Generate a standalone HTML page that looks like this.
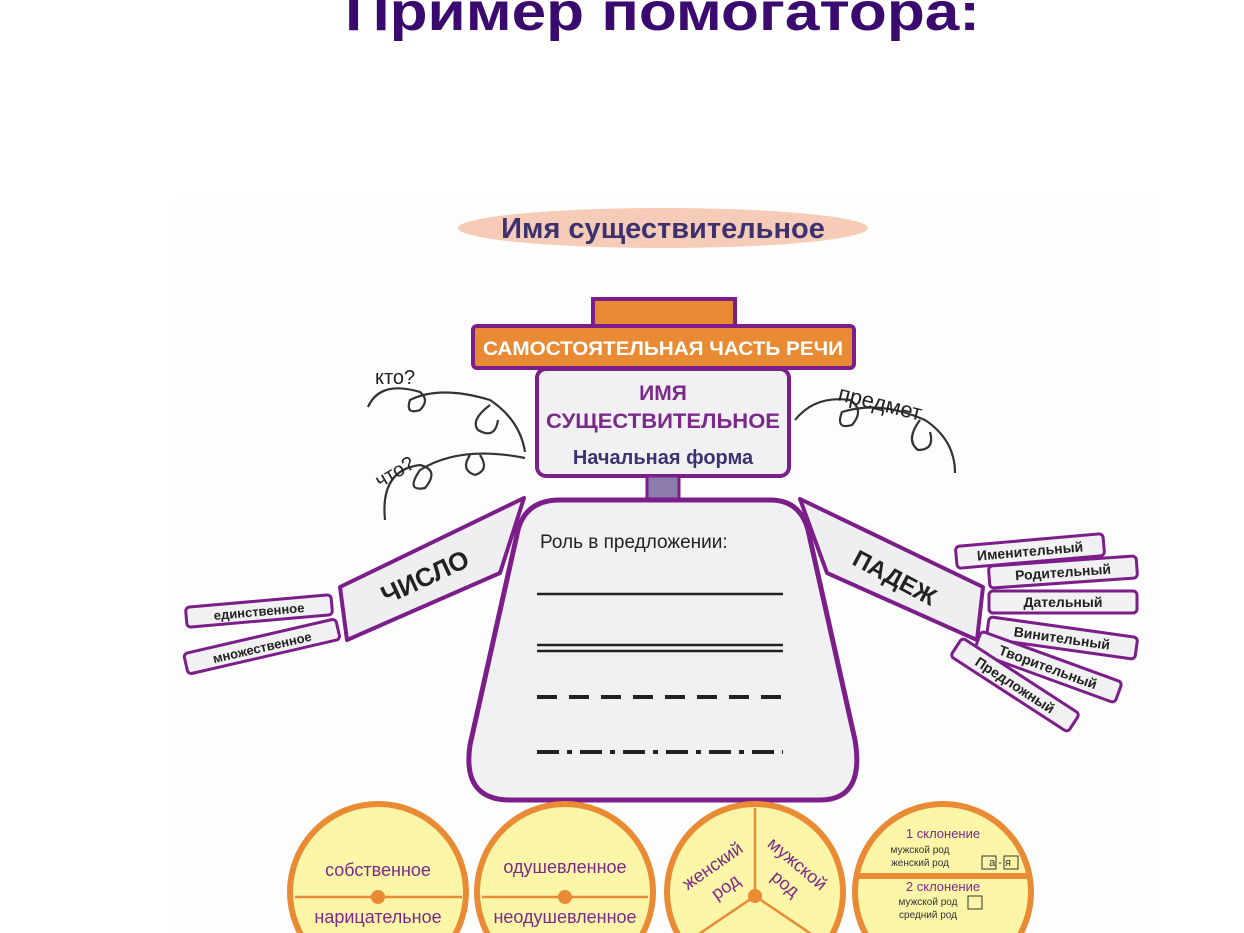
<!DOCTYPE html>
<html><head><meta charset="utf-8"><style>
html,body{margin:0;padding:0;background:#fff;width:1244px;height:933px;overflow:hidden;}
svg{display:block;font-family:"Liberation Sans",sans-serif;}
</style></head><body>
<svg width="1244" height="933" viewBox="0 0 1244 933" xmlns="http://www.w3.org/2000/svg">
<rect x="175" y="195" width="985" height="738" fill="#fdfdfd"/>
<text x="345" y="30" font-size="54" font-weight="bold" fill="#3a0a6e" textLength="635" lengthAdjust="spacingAndGlyphs">Пример помогатора:</text>

<ellipse cx="663" cy="228" rx="205" ry="20" fill="#f6cbb8"/>
<text x="663" y="238" font-size="29" font-weight="bold" fill="#3d3270" text-anchor="middle">Имя существительное</text>

<rect x="593" y="299" width="142" height="34" fill="#e98a34" stroke="#7b1e8a" stroke-width="4"/>
<rect x="473" y="326" width="381" height="42" rx="4" fill="#e98a34" stroke="#7b1e8a" stroke-width="4"/>
<text x="663" y="355" font-size="19.5" font-weight="bold" fill="#fff" text-anchor="middle" textLength="360" lengthAdjust="spacingAndGlyphs">САМОСТОЯТЕЛЬНАЯ ЧАСТЬ РЕЧИ</text>

<rect x="537" y="369" width="252" height="107" rx="9" fill="#f1f1f3" stroke="#7b1e8a" stroke-width="4"/>
<text x="663" y="400" font-size="21" font-weight="bold" fill="#7b2a8a" text-anchor="middle">ИМЯ</text>
<text x="663" y="428" font-size="21" font-weight="bold" fill="#7b2a8a" text-anchor="middle" textLength="234" lengthAdjust="spacingAndGlyphs">СУЩЕСТВИТЕЛЬНОЕ</text>
<text x="663" y="464" font-size="20" font-weight="bold" fill="#3d3270" text-anchor="middle">Начальная форма</text>
<rect x="647" y="476" width="32" height="24" fill="#8c7cae" stroke="#7b1e8a" stroke-width="3"/>

<g fill="none" stroke="#333" stroke-width="2.2">
<path d="M368 407 Q380 380 420 392 Q430 400 420 410 Q405 415 410 400 Q440 385 490 400 Q520 420 525 452"/>
<path d="M490 405 Q470 420 478 430 Q495 440 498 420"/>
<path d="M385 520 Q380 470 420 465 Q440 470 425 488 Q405 492 420 470 Q460 445 525 458"/>
<path d="M470 455 Q460 470 475 475 Q490 470 480 455"/>
<path d="M795 420 Q815 395 850 400 Q865 410 852 425 Q835 430 842 412 Q880 400 925 420 Q955 440 955 473"/>
<path d="M920 420 Q905 440 918 450 Q935 450 930 432"/>
</g>
<text x="375" y="384" font-size="20" fill="#222">кто?</text>
<text x="380" y="488" font-size="20" fill="#222" transform="rotate(-30 380 488)">что?</text>
<text x="837" y="400" font-size="22" fill="#222" transform="rotate(14 837 400)">предмет</text>

<path d="M560 500 L770 500 Q800 500 808 530 L855 740 Q865 800 820 800 L510 800 Q462 800 470 745 L518 530 Q526 500 560 500 Z" fill="#f1f1f3" stroke="#7b1e8a" stroke-width="5"/>
<text x="540" y="548" font-size="19" fill="#222">Роль в предложении:</text>
<g stroke="#222" stroke-width="2.5">
<line x1="537" y1="594" x2="783" y2="594"/>
<line x1="537" y1="645" x2="783" y2="645"/>
<line x1="537" y1="651" x2="783" y2="651"/>
<line x1="537" y1="697" x2="783" y2="697" stroke-width="4" stroke-dasharray="20 12"/>
<line x1="537" y1="752" x2="783" y2="752" stroke-width="4" stroke-dasharray="22 8 5 8"/>
</g>

<polygon points="340,587 524,498 500,573 347,640" fill="#efeff1" stroke="#7b1e8a" stroke-width="4" stroke-linejoin="round"/>
<text x="425" y="586" font-size="26" font-weight="bold" fill="#222" text-anchor="middle" transform="rotate(-25 425 577)">ЧИСЛО</text>
<g transform="rotate(-5 259 611)"><rect x="186" y="601" width="146" height="20" rx="4" fill="#f1f1f3" stroke="#7b1e8a" stroke-width="3"/><text x="259" y="616" font-size="13" font-weight="bold" fill="#222" text-anchor="middle">единственное</text></g>
<g transform="rotate(-13 262 647)"><rect x="184" y="636" width="156" height="21" rx="4" fill="#f1f1f3" stroke="#7b1e8a" stroke-width="3"/><text x="262" y="652" font-size="13" font-weight="bold" fill="#222" text-anchor="middle">множественное</text></g>

<polygon points="800,499 827,573 977,640 983,587" fill="#efeff1" stroke="#7b1e8a" stroke-width="4" stroke-linejoin="round"/>
<text x="895" y="586" font-size="24" font-weight="bold" fill="#222" text-anchor="middle" transform="rotate(28 895 577)">ПАДЕЖ</text>
<g font-size="14" font-weight="bold" fill="#222" text-anchor="middle">
<g transform="rotate(-5 1030 551)"><rect x="956" y="540" width="148" height="22" rx="4" fill="#f1f1f3" stroke="#7b1e8a" stroke-width="3"/><text x="1030" y="556">Именительный</text></g>
<g transform="rotate(-4 1063 572)"><rect x="989" y="561" width="148" height="22" rx="4" fill="#f1f1f3" stroke="#7b1e8a" stroke-width="3"/><text x="1063" y="577">Родительный</text></g>
<g><rect x="989" y="591" width="148" height="22" rx="4" fill="#f1f1f3" stroke="#7b1e8a" stroke-width="3"/><text x="1063" y="607">Дательный</text></g>
<g transform="rotate(8 1062 638)"><rect x="987" y="627" width="150" height="22" rx="4" fill="#f1f1f3" stroke="#7b1e8a" stroke-width="3"/><text x="1062" y="643">Винительный</text></g>
<g transform="rotate(20 1048 667)"><rect x="973" y="656" width="150" height="22" rx="4" fill="#f1f1f3" stroke="#7b1e8a" stroke-width="3"/><text x="1048" y="672">Творительный</text></g>
<g transform="rotate(33 1015 685)"><rect x="945" y="674" width="140" height="22" rx="4" fill="#f1f1f3" stroke="#7b1e8a" stroke-width="3"/><text x="1015" y="690">Предложный</text></g>
</g>

<g fill="#fbf5a8" stroke="#e98a34" stroke-width="6">
<circle cx="378" cy="892" r="88"/>
<circle cx="565" cy="892" r="88"/>
<circle cx="755" cy="892" r="88"/>
<circle cx="943" cy="892" r="88"/>
</g>
<g stroke="#e98a34" stroke-width="2.5">
<line x1="295" y1="897" x2="462" y2="897"/>
<line x1="482" y1="897" x2="648" y2="897"/>
<line x1="755" y1="808" x2="755" y2="896"/>
<line x1="755" y1="896" x2="690" y2="940"/>
<line x1="755" y1="896" x2="820" y2="940"/>
<line x1="856" y1="876" x2="1030" y2="876" stroke-width="6"/>
</g>
<g fill="#e98a34"><circle cx="378" cy="897" r="7"/><circle cx="565" cy="897" r="7"/><circle cx="755" cy="896" r="7"/></g>
<g font-size="18" fill="#7b2a8a" text-anchor="middle">
<text x="378" y="876">собственное</text>
<text x="378" y="923">нарицательное</text>
<text x="565" y="873">одушевленное</text>
<text x="565" y="923">неодушевленное</text>
<text x="712" y="872" transform="rotate(-35 712 865)">женский</text>
<text x="725" y="893" transform="rotate(-35 725 886)">род</text>
<text x="798" y="870" transform="rotate(40 798 863)">мужской</text>
<text x="786" y="890" transform="rotate(40 786 883)">род</text>
</g>
<g fill="#7b2a8a" text-anchor="middle">
<text x="943" y="838" font-size="13">1 склонение</text>
<text x="920" y="853" font-size="10" fill="#333">мужской род</text>
<text x="920" y="866" font-size="10" fill="#333">женский род</text>
<text x="1000" y="866" font-size="11" fill="#333">а - я</text>
<text x="943" y="891" font-size="13">2 склонение</text>
<text x="928" y="905" font-size="10" fill="#333">мужской род</text>
<text x="928" y="918" font-size="10" fill="#333">средний род</text>
</g>
<rect x="982" y="856" width="14" height="13" fill="none" stroke="#333" stroke-width="1"/>
<rect x="1004" y="856" width="14" height="13" fill="none" stroke="#333" stroke-width="1"/>
<rect x="968" y="896" width="14" height="13" fill="none" stroke="#333" stroke-width="1"/>
</svg>
</body></html>
